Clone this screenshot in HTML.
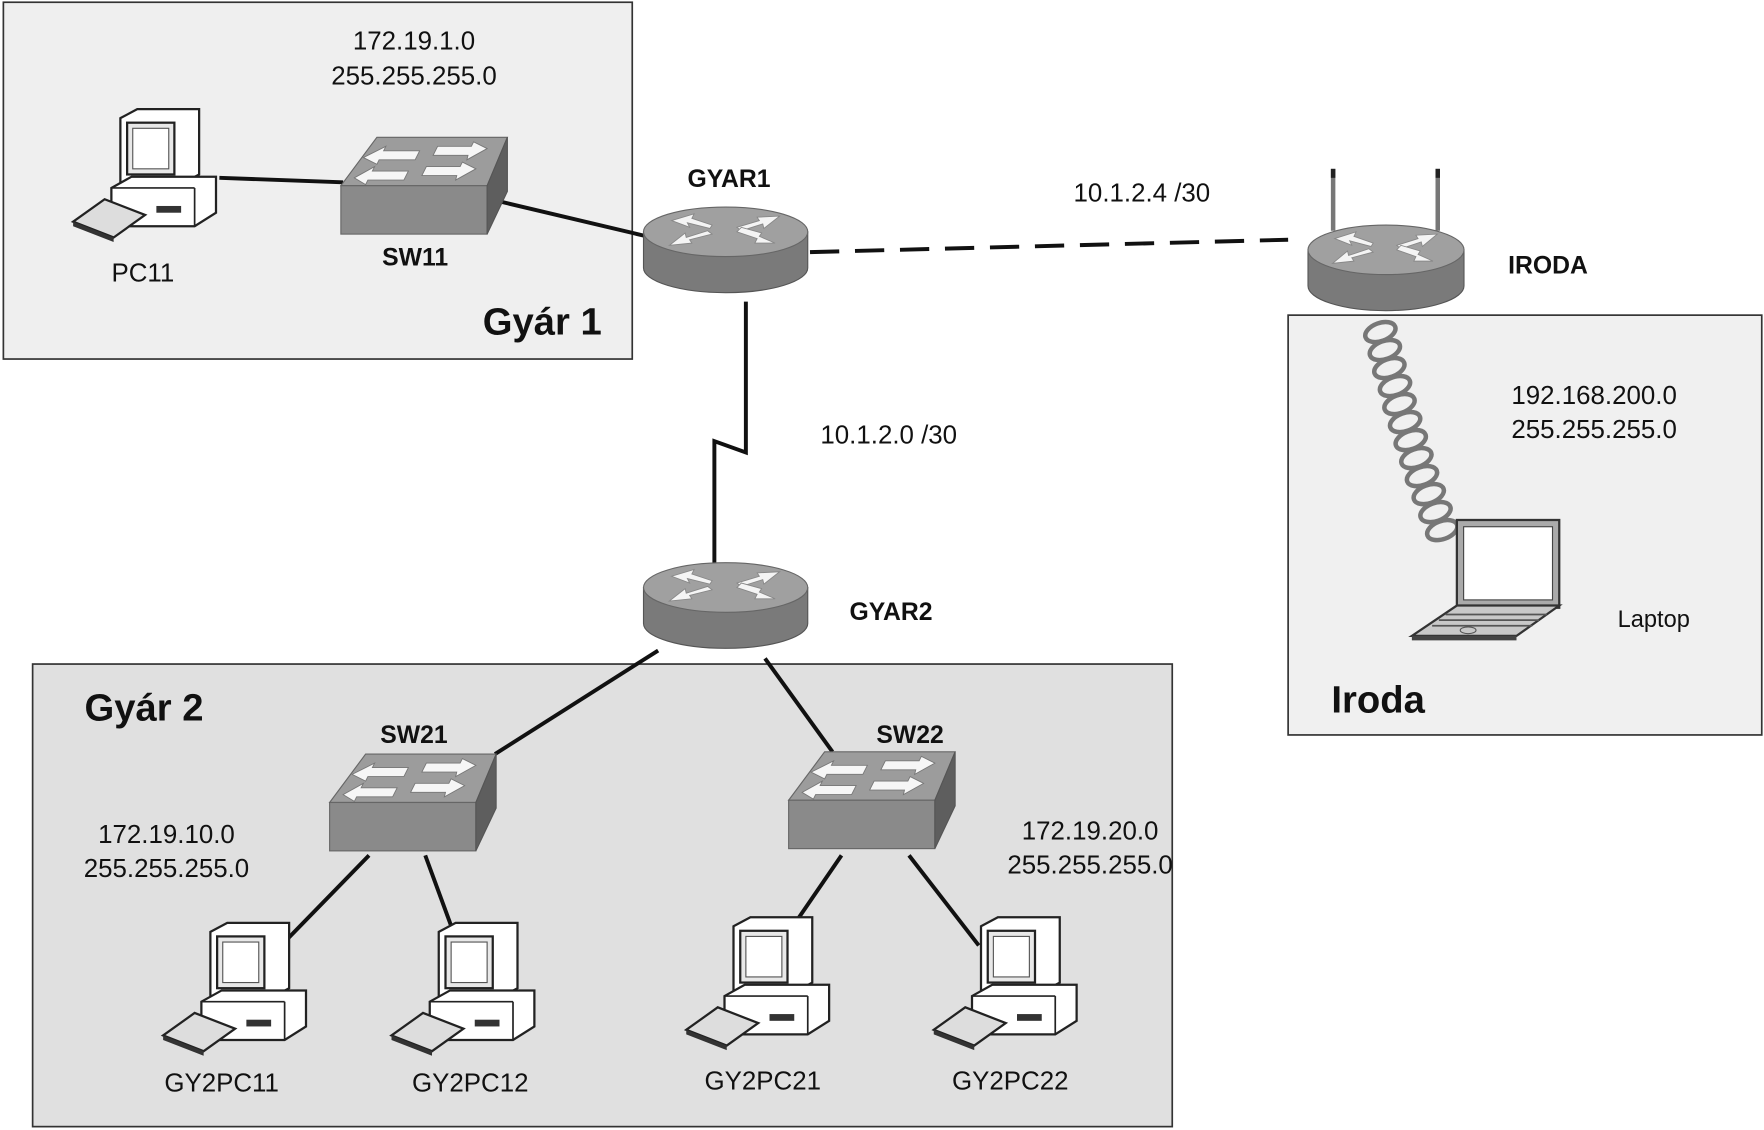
<!DOCTYPE html>
<html><head><meta charset="utf-8"><style>
html,body{margin:0;padding:0;background:#fff}
svg{display:block}
text{font-family:"Liberation Sans",Arial,sans-serif;fill:#111}
.b{font-weight:bold}
</style></head><body>
<svg width="1764" height="1130" viewBox="0 0 1568 1004" preserveAspectRatio="none" xmlns="http://www.w3.org/2000/svg">
<defs>
<g id="router">
  <path d="M-73,0 L-73,32 A73,22 0 0 0 73,32 L73,0 Z" fill="#7a7a7a" stroke="#555"/>
  <ellipse cx="0" cy="0" rx="73" ry="22" fill="#a0a0a0" stroke="#666"/>
  <g fill="#f4f4f4" stroke="#888" stroke-width="0.8">
    <polygon points="-48,-10 -32,-4 -34,-8 -14,-3 -12,-6 -30,-12 -28,-16"/>
    <polygon points="48,-14 28,-13 30,-10 10,-4 14,-1 33,-7 34,-3"/>
    <polygon points="-50,12 -30,10 -32,7 -12,2 -16,-1 -35,5 -36,1"/>
    <polygon points="44,10 30,4 32,1 14,-4 10,0 28,6 26,10"/>
  </g>
</g>
<g id="switch">
  <polygon points="0,43 32,0 148,0 130,43" fill="#9c9c9c" stroke="#666"/>
  <rect x="0" y="43" width="130" height="43" fill="#8a8a8a" stroke="#666"/>
  <polygon points="130,43 148,0 148,48 130,86" fill="#5e5e5e" stroke="#555"/>
  <g fill="#f6f6f6" stroke="#777" stroke-width="0.8">
    <polygon points="20,18 40,8 38,12 70,12 66,20 34,20 32,24"/>
    <polygon points="130,10 112,20 113,16 82,16 86,8 116,8 118,4"/>
    <polygon points="12,36 30,26 28,30 60,30 56,38 24,38 22,42"/>
    <polygon points="120,28 102,38 103,34 72,34 76,26 106,26 108,22"/>
  </g>
</g>
<g id="pc">
  <polygon points="40,8 55,0 110,0 110,58 95,66 40,66" fill="#fff" stroke="#222" stroke-width="2"/>
  <rect x="46" y="12" width="42" height="46" fill="#e8e8e8" stroke="#222" stroke-width="2"/>
  <rect x="51" y="17" width="32" height="36" fill="#fff" stroke="#555"/>
  <polygon points="32,70 50,60 125,60 125,92 106,104 32,104" fill="#fff" stroke="#222" stroke-width="2"/>
  <line x1="32" y1="70" x2="106" y2="70" stroke="#222" stroke-width="1.5"/>
  <line x1="106" y1="70" x2="106" y2="104" stroke="#222" stroke-width="1.5"/>
  <rect x="72" y="86" width="22" height="6" fill="#333"/>
  <polygon points="-2,100 26,80 62,94 34,114" fill="#ddd" stroke="#222" stroke-width="2"/>
  <polygon points="-2,100 34,114 34,118 -2,104" fill="#333"/>
</g>
</defs>

<rect x="3" y="2" width="559" height="317" fill="#efefef" stroke="#333" stroke-width="1.5"/>
<rect x="29" y="590" width="1013" height="411" fill="#e0e0e0" stroke="#333" stroke-width="1.5"/>
<rect x="1145" y="280" width="421" height="373" fill="#f0f0f0" stroke="#333" stroke-width="1.5"/>

<g stroke="#111" stroke-width="3.5" fill="none">
  <line x1="195" y1="158" x2="305" y2="162"/>
  <line x1="440" y1="178" x2="575" y2="210"/>
  <line x1="720" y1="224" x2="1145" y2="213" stroke-dasharray="26,14"/>
  <polyline points="663,268 663,402 635,392 635,500"/>
  <line x1="585" y1="578" x2="440" y2="670"/>
  <line x1="680" y1="585" x2="740" y2="668"/>
  <line x1="328" y1="760" x2="250" y2="840"/>
  <line x1="378" y1="760" x2="403" y2="828"/>
  <line x1="748" y1="760" x2="700" y2="830"/>
  <line x1="808" y1="760" x2="870" y2="840"/>
</g>

<g fill="none" stroke="#777" stroke-width="4">
  <ellipse cx="1227" cy="295" rx="14" ry="8" transform="rotate(-20 1227 295)"/>
  <ellipse cx="1231" cy="311" rx="14" ry="8" transform="rotate(-20 1231 311)"/>
  <ellipse cx="1235" cy="327" rx="14" ry="8" transform="rotate(-20 1235 327)"/>
  <ellipse cx="1240" cy="343" rx="14" ry="8" transform="rotate(-20 1240 343)"/>
  <ellipse cx="1244" cy="359" rx="14" ry="8" transform="rotate(-20 1244 359)"/>
  <ellipse cx="1249" cy="375" rx="14" ry="8" transform="rotate(-20 1249 375)"/>
  <ellipse cx="1254" cy="391" rx="14" ry="8" transform="rotate(-20 1254 391)"/>
  <ellipse cx="1259" cy="407" rx="14" ry="8" transform="rotate(-20 1259 407)"/>
  <ellipse cx="1264" cy="423" rx="14" ry="8" transform="rotate(-20 1264 423)"/>
  <ellipse cx="1270" cy="439" rx="14" ry="8" transform="rotate(-20 1270 439)"/>
  <ellipse cx="1276" cy="455" rx="14" ry="8" transform="rotate(-20 1276 455)"/>
  <ellipse cx="1282" cy="471" rx="14" ry="8" transform="rotate(-20 1282 471)"/>
</g>

<rect x="1295" y="462" width="91" height="78" fill="#aaa" stroke="#333" stroke-width="2"/>
<rect x="1301" y="468" width="79" height="65" fill="#fff" stroke="#444"/>
<polygon points="1255,565 1295,538 1386,538 1348,565" fill="#c8c8c8" stroke="#333" stroke-width="2"/>
<g stroke="#555" stroke-width="1.5"><line x1="1285" y1="546" x2="1375" y2="546"/><line x1="1279" y1="551" x2="1368" y2="551"/><line x1="1273" y1="556" x2="1362" y2="556"/></g>
<ellipse cx="1305" cy="560" rx="7" ry="3" fill="none" stroke="#555"/>
<polygon points="1255,565 1348,565 1348,569 1255,569" fill="#444"/>

<use href="#router" x="645" y="206"/>
<use href="#router" x="645" y="522"/>
<line x1="1185" y1="150" x2="1185" y2="205" stroke="#777" stroke-width="4"/>
<line x1="1278" y1="150" x2="1278" y2="205" stroke="#777" stroke-width="4"/>
<line x1="1185" y1="150" x2="1185" y2="158" stroke="#222" stroke-width="4"/>
<line x1="1278" y1="150" x2="1278" y2="158" stroke="#222" stroke-width="4"/>
<g transform="translate(1232,222) scale(0.95,1)"><use href="#router"/></g>

<use href="#switch" x="303" y="122"/>
<use href="#switch" x="293" y="670"/>
<use href="#switch" x="701" y="668"/>

<use href="#pc" x="67" y="97"/>
<use href="#pc" x="147" y="820"/>
<use href="#pc" x="350" y="820"/>
<use href="#pc" x="612" y="815"/>
<use href="#pc" x="832" y="815"/>

<g font-size="23">
<text x="368" y="44" text-anchor="middle">172.19.1.0</text>
<text x="368" y="75" text-anchor="middle">255.255.255.0</text>
<text x="127" y="250" text-anchor="middle">PC11</text>
<text x="1015" y="179" text-anchor="middle">10.1.2.4 /30</text>
<text x="790" y="394" text-anchor="middle">10.1.2.0 /30</text>
<text x="1417" y="359" text-anchor="middle">192.168.200.0</text>
<text x="1417" y="389" text-anchor="middle">255.255.255.0</text>
<text x="1470" y="557" text-anchor="middle" font-size="21">Laptop</text>
<text x="148" y="749" text-anchor="middle">172.19.10.0</text>
<text x="148" y="779" text-anchor="middle">255.255.255.0</text>
<text x="969" y="746" text-anchor="middle">172.19.20.0</text>
<text x="969" y="776" text-anchor="middle">255.255.255.0</text>
<text x="197" y="970" text-anchor="middle">GY2PC11</text>
<text x="418" y="970" text-anchor="middle">GY2PC12</text>
<text x="678" y="968" text-anchor="middle">GY2PC21</text>
<text x="898" y="968" text-anchor="middle">GY2PC22</text>
</g>
<g font-size="22">
<text x="369" y="236" text-anchor="middle" class="b">SW11</text>
<text x="648" y="166" text-anchor="middle" class="b">GYAR1</text>
<text x="792" y="551" text-anchor="middle" class="b">GYAR2</text>
<text x="1376" y="243" text-anchor="middle" class="b">IRODA</text>
<text x="368" y="660" text-anchor="middle" class="b">SW21</text>
<text x="809" y="660" text-anchor="middle" class="b">SW22</text>
</g>
<text x="482" y="297" text-anchor="middle" font-size="34" class="b">Gyár 1</text>
<text x="128" y="640" text-anchor="middle" font-size="34" class="b">Gyár 2</text>
<text x="1225" y="633" text-anchor="middle" font-size="34" class="b">Iroda</text>
</svg>
</body></html>
